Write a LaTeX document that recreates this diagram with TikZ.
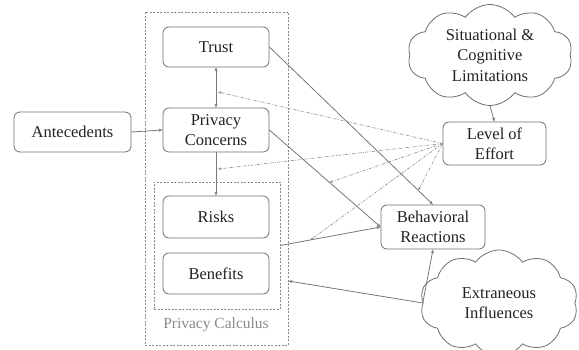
\documentclass[tikz,border=0pt]{standalone}
\usepackage{fontspec}
\setmainfont{Liberation Serif}
\usetikzlibrary{shapes.symbols,arrows.meta,calc}
\definecolor{txt}{HTML}{222222}
\definecolor{boxgray}{HTML}{6E6E6E}
\definecolor{linegray}{HTML}{777777}
\definecolor{dashgray}{HTML}{8A8A8A}

\begin{document}
\begin{tikzpicture}[x=1pt,y=-1pt,
  box/.style={draw=boxgray, rounded corners=6pt, line width=0.8pt,
    minimum width=106pt, minimum height=42pt, align=center, text=txt,
    font=\fontsize{16.5}{20}\selectfont, inner sep=2pt},
  puff/.style={cloud, cloud puffs=10, cloud puff arc=110, cloud ignores aspect,
    draw=boxgray, line width=0.8pt, align=center, text=txt, inner sep=0pt,
    font=\fontsize{16.5}{20.5}\selectfont},
  dashbox/.style={draw=dashgray, dashed, dash pattern=on 2pt off 1.5pt,
    line width=0.7pt, inner sep=0pt},
  link/.style={draw=linegray, line width=0.8pt,
    -{Stealth[length=4pt,width=3pt]}},
  twolink/.style={link, {Stealth[length=4pt,width=3pt]}-{Stealth[length=4pt,width=3pt]}},
  moder/.style={draw=dashgray, line width=0.6pt,
    dash pattern=on 3pt off 1.5pt on 0.8pt off 1.5pt,
    -{Stealth[length=3.5pt,width=2.6pt]}}
]
\useasboundingbox (0,0) rectangle (579,350);

% privacy calculus frames
\node[dashbox, minimum width=143pt, minimum height=333pt] (outbox) at (216.5,178.5) {};
\node[dashbox, minimum width=126pt, minimum height=127pt] (inbox) at (217,245.5) {};
\node[text=dashgray, font=\fontsize{15.5}{18}\selectfont] (calclabel) at (216,325) {Privacy Calculus};

% main boxes
\node[box, minimum height=40pt] (trust) at (216,47) {Trust};
\node[box, minimum height=44pt] (pc) at (216,130) {Privacy\\Concerns};
\node[box] (risks) at (216,217) {Risks};
\node[box, minimum height=41pt] (benefits) at (216,273.5) {Benefits};
\node[box, minimum width=117pt, minimum height=40pt] (ante) at (72.5,132) {Antecedents};
\node[box, minimum width=103pt, minimum height=43pt] (loe) at (494.5,143.5) {Level of\\Effort};
\node[box, minimum width=104pt, minimum height=44pt] (br) at (433,227) {Behavioral\\Reactions};

% clouds
\node[puff, minimum width=165pt, minimum height=101pt] (sit) at (490,55)
  {Situational \&\\Cognitive\\Limitations};
\node[puff, minimum width=158pt, minimum height=106pt] (ext) at (499,303)
  {Extraneous\\Influences};

% direct effects
\draw[link] (ante.east) -- (pc.west);
\draw[twolink] (trust.south) -- (pc.north);
\draw[link] (pc.south) -- (risks.north);
\draw[link] (trust.east) -- coordinate[pos=0.91] (m5) (br.north);
\draw[link] (pc.east) -- coordinate[pos=0.54] (m3) (br.west);
\draw[link] (inbox.east) -- coordinate[pos=0.3] (m4) (br.west);
\draw[link] (sit.south) -- (loe.north);
\coordinate (calcin) at (outbox.east |- 0,281);
\draw[link] (ext.west) -- (br.south);
\draw[link] (ext.west) -- (calcin);

% moderating effects of the level of effort
\coordinate (m1) at (218,92);
\coordinate (m2) at (218,169);
\draw[moder] (loe.west) -- (m1);
\draw[moder] (loe.west) -- (m2);
\draw[moder] (loe.west) -- (m3);
\draw[moder] (loe.west) -- (m4);
\draw[moder] (loe.west) -- (m5);
\end{tikzpicture}
\end{document}
